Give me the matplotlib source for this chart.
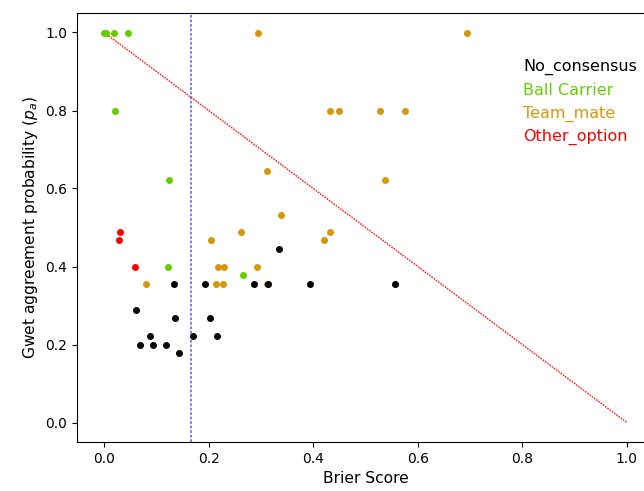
import matplotlib; matplotlib.use('Agg')

import matplotlib.pyplot as plt
import numpy as np

# Brier score vs Gwet agreement probability, one group per consensus label
no_consensus_x = [0.134, 0.193, 0.286, 0.314, 0.393, 0.556, 0.334, 0.060, 0.136,
                  0.203, 0.087, 0.169, 0.215, 0.069, 0.094, 0.119, 0.144]
no_consensus_y = [0.356, 0.356, 0.356, 0.356, 0.356, 0.356, 0.444, 0.289, 0.267,
                  0.267, 0.222, 0.222, 0.222, 0.200, 0.200, 0.200, 0.178]

ball_carrier_x = [0.0, 0.004, 0.018, 0.046, 0.021, 0.124, 0.122, 0.265]
ball_carrier_y = [1.0, 1.0, 1.0, 1.0, 0.8, 0.622, 0.400, 0.378]

team_mate_x = [0.295, 0.695, 0.433, 0.449, 0.527, 0.575, 0.312, 0.538, 0.338,
               0.262, 0.205, 0.421, 0.433, 0.217, 0.230, 0.292, 0.080, 0.214,
               0.228, 0.311]
team_mate_y = [1.0, 1.0, 0.8, 0.8, 0.8, 0.8, 0.644, 0.622, 0.533,
               0.489, 0.467, 0.467, 0.489, 0.400, 0.400, 0.400, 0.356, 0.356,
               0.356, 0.356]

other_option_x = [0.031, 0.028, 0.059]
other_option_y = [0.489, 0.467, 0.400]

threshold = 1 / 6.0

groups = [
    ("No_consensus", no_consensus_x, no_consensus_y, 'black'),
    ("Ball Carrier", ball_carrier_x, ball_carrier_y, '#66cc00'),
    ("Team_mate", team_mate_x, team_mate_y, '#d4980c'),
    ("Other_option", other_option_x, other_option_y, 'red'),
]

fig = plt.figure(figsize=(6.44, 4.91), dpi=100)
ax = fig.add_axes([77 / 644.0, 1 - 442 / 491.0, 577 / 644.0, 429 / 491.0])

ax.axvline(threshold, color='blue', alpha=0.55, linestyle=(0, (1.5, 1)), linewidth=1.3)
ax.plot([0, 1], [1, 0], color='red', linestyle=(0, (1.2, 0.8)), linewidth=1.0, alpha=0.9)

# draw black last so it sits on top
for name, xs, ys, c in [groups[2], groups[1], groups[3], groups[0]]:
    ax.scatter(xs, ys, s=16, color=c, zorder=3)

for i, (name, xs, ys, c) in enumerate(groups):
    fig.text(523 / 644.0, 1 - (67 + 23.3 * i) / 491.0, name, color=c,
             fontsize=11.5, va='center', ha='left')

ax.set_xlim(-0.052, 1.052)
ax.set_ylim(-0.05, 1.05)
ax.set_xlabel("Brier Score", fontsize=11.2)
ax.set_ylabel("Gwet aggreement probability ($p_a$)", fontsize=11.2)

plt.savefig("out.png", dpi=100)
